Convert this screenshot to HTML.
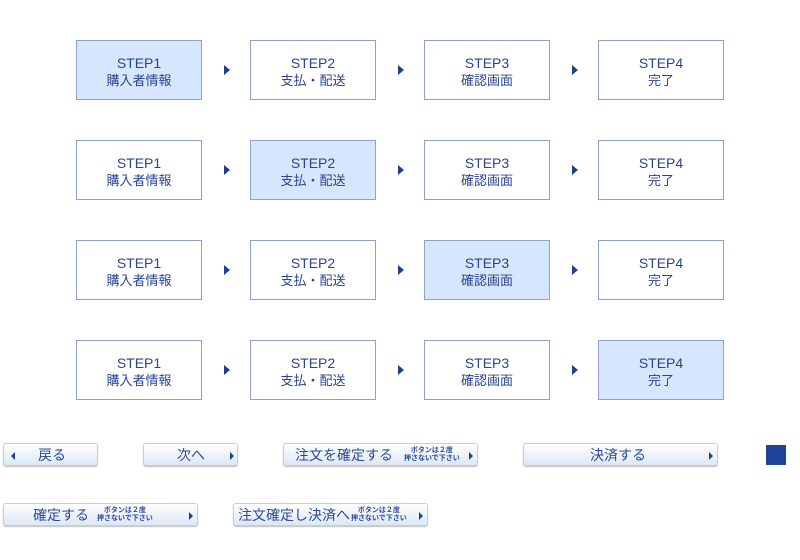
<!DOCTYPE html>
<html><head><meta charset="utf-8"><style>
body{margin:0;width:800px;height:560px;background:#fff;position:relative;overflow:hidden;font-family:"Liberation Sans","Noto Sans CJK JP",sans-serif;color:#2a4490}
.b{position:absolute;width:124px;height:58px;border:1px solid #8ea2cf;background:#fff;text-align:center;box-sizing:content-box}
.b.on{background:#d6e6fc}
.b .s{position:absolute;left:0;right:0;top:14px;font-size:14px;line-height:16px}
.b .j{position:absolute;left:0;right:0;top:32px;font-size:13px;line-height:16px}
.a{position:absolute;width:0;height:0;border-top:5px solid transparent;border-bottom:5px solid transparent;border-left:6px solid #1e3f8f}
.btn{position:absolute;height:23px;border:1px solid #c5cfdc;border-radius:3px;background:linear-gradient(#ffffff,#dde8f4);box-shadow:0 1px 1px rgba(0,0,0,.25);color:#2b4a9a;font-size:14px;line-height:23px;box-sizing:border-box}
.btn .t{position:absolute;top:0;white-space:nowrap}
.r{position:absolute;top:8px;width:0;height:0;border-top:4px solid transparent;border-bottom:4px solid transparent;border-left:4px solid #1e3f8f}
.l{position:absolute;top:8px;width:0;height:0;border-top:4px solid transparent;border-bottom:4px solid transparent;border-right:4px solid #1e3f8f}
.sm{position:absolute;top:3px;font-size:7px;line-height:8px;font-weight:bold;text-align:center;white-space:nowrap}
</style></head><body>
<div class="b on" style="left:76px;top:40px"><div class="s">STEP1</div><div class="j">購入者情報</div></div>
<div class="b" style="left:250px;top:40px"><div class="s">STEP2</div><div class="j">支払・配送</div></div>
<div class="b" style="left:424px;top:40px"><div class="s">STEP3</div><div class="j">確認画面</div></div>
<div class="b" style="left:598px;top:40px"><div class="s">STEP4</div><div class="j">完了</div></div>

<div class="b" style="left:76px;top:140px"><div class="s">STEP1</div><div class="j">購入者情報</div></div>
<div class="b on" style="left:250px;top:140px"><div class="s">STEP2</div><div class="j">支払・配送</div></div>
<div class="b" style="left:424px;top:140px"><div class="s">STEP3</div><div class="j">確認画面</div></div>
<div class="b" style="left:598px;top:140px"><div class="s">STEP4</div><div class="j">完了</div></div>

<div class="b" style="left:76px;top:240px"><div class="s">STEP1</div><div class="j">購入者情報</div></div>
<div class="b" style="left:250px;top:240px"><div class="s">STEP2</div><div class="j">支払・配送</div></div>
<div class="b on" style="left:424px;top:240px"><div class="s">STEP3</div><div class="j">確認画面</div></div>
<div class="b" style="left:598px;top:240px"><div class="s">STEP4</div><div class="j">完了</div></div>

<div class="b" style="left:76px;top:340px"><div class="s">STEP1</div><div class="j">購入者情報</div></div>
<div class="b" style="left:250px;top:340px"><div class="s">STEP2</div><div class="j">支払・配送</div></div>
<div class="b" style="left:424px;top:340px"><div class="s">STEP3</div><div class="j">確認画面</div></div>
<div class="b on" style="left:598px;top:340px"><div class="s">STEP4</div><div class="j">完了</div></div>

<div class="a" style="left:224px;top:65px"></div><div class="a" style="left:398px;top:65px"></div><div class="a" style="left:572px;top:65px"></div>
<div class="a" style="left:224px;top:165px"></div><div class="a" style="left:398px;top:165px"></div><div class="a" style="left:572px;top:165px"></div>
<div class="a" style="left:224px;top:265px"></div><div class="a" style="left:398px;top:265px"></div><div class="a" style="left:572px;top:265px"></div>
<div class="a" style="left:224px;top:365px"></div><div class="a" style="left:398px;top:365px"></div><div class="a" style="left:572px;top:365px"></div>

<div class="btn" style="left:3px;top:443px;width:95px"><div class="l" style="left:7px"></div><span class="t" style="left:34px">戻る</span></div>
<div class="btn" style="left:143px;top:443px;width:95px"><span class="t" style="left:33px">次へ</span><div class="r" style="left:86px"></div></div>
<div class="btn" style="left:283px;top:443px;width:195px"><span class="t" style="left:11px">注文を確定する</span><div class="sm" style="left:120px">ボタンは２度<br>押さないで下さい</div><div class="r" style="left:185px"></div></div>
<div class="btn" style="left:523px;top:443px;width:195px"><span class="t" style="left:66px">決済する</span><div class="r" style="left:185px"></div></div>
<div style="position:absolute;left:766px;top:445px;width:20px;height:20px;background:#1e4599"></div>

<div class="btn" style="left:3px;top:503px;width:195px"><span class="t" style="left:29px">確定する</span><div class="sm" style="left:93px">ボタンは２度<br>押さないで下さい</div><div class="r" style="left:185px"></div></div>
<div class="btn" style="left:233px;top:503px;width:195px"><span class="t" style="left:4px">注文確定し決済へ</span><div class="sm" style="left:117px">ボタンは２度<br>押さないで下さい</div><div class="r" style="left:185px"></div></div>
</body></html>
